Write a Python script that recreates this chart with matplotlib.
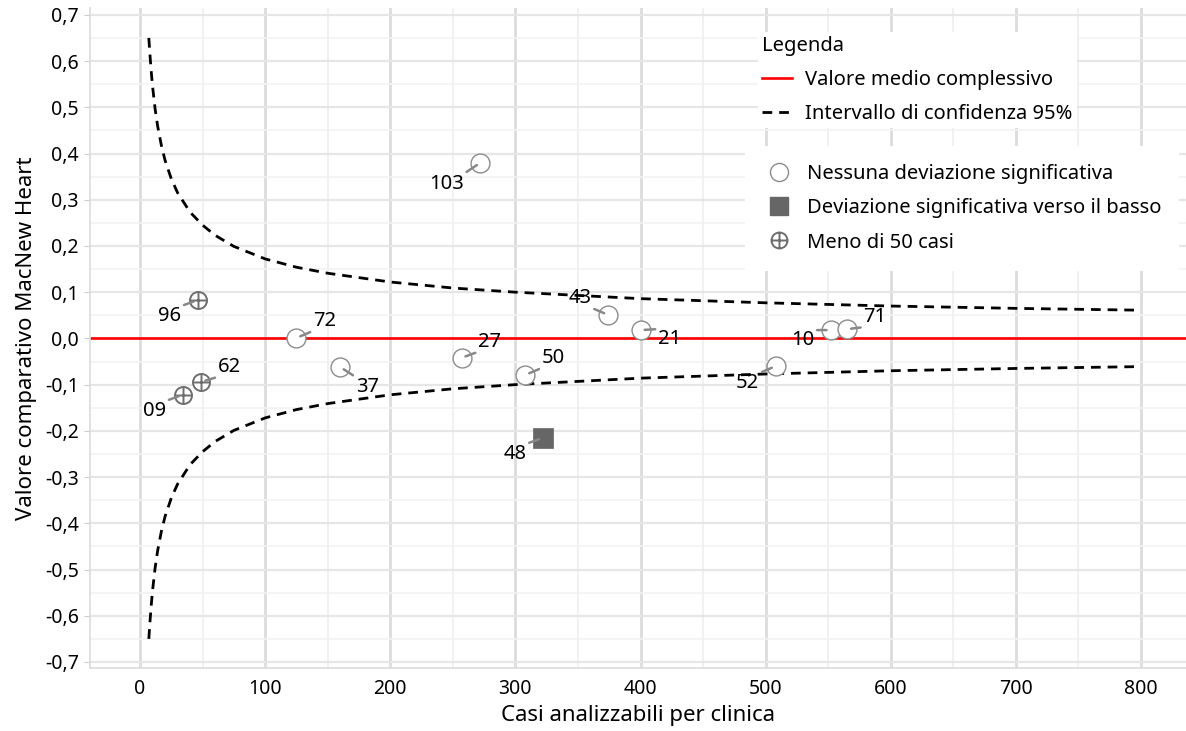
import numpy as np
import matplotlib
matplotlib.use("Agg")
import matplotlib.pyplot as plt
from matplotlib.path import Path
from matplotlib.lines import Line2D
from matplotlib.ticker import MultipleLocator, FuncFormatter

plt.rcParams["font.family"] = ["Noto Sans", "DejaVu Sans"]

# -----------------------------
# Data
# -----------------------------
clinic = ["103", "96", "72", "37", "62", "09", "27", "50", "48", "43", "21", "52", "10", "71"]
cases = [272, 46, 125, 160, 49, 34, 257, 308, 322, 374, 400, 508, 552, 565]
value = [0.380, 0.083, 0.001, -0.062, -0.094, -0.122, -0.042, -0.079, -0.215, 0.051, 0.018, -0.060, 0.018, 0.020]
group = ["ok", "few", "ok", "ok", "few", "few", "ok", "ok", "low", "ok", "ok", "ok", "ok", "ok"]
# label offsets (pixels, x right / y up)
lab_dx = [-34, -28, 28, 27, 28, -28, 28, 28, -28, -28, 29, -28, -28, 28]
lab_dy = [-21, -16, 17, -20, 15, -16, 16, 17, -16, 17, -9, -17, -10, 12]

# confidence band
ci_n = [7, 8, 9, 10, 12, 14, 17, 20, 25, 30, 40, 50, 60, 75, 100, 125, 150, 200,
        250, 300, 400, 500, 600, 700, 800]
ci_upper = [0.650, 0.610, 0.575, 0.545, 0.497, 0.460, 0.418, 0.385, 0.345, 0.315,
            0.273, 0.245, 0.223, 0.199, 0.172, 0.154, 0.141, 0.122, 0.109, 0.100,
            0.086, 0.077, 0.070, 0.065, 0.061]
ci_lower = [-0.650, -0.610, -0.575, -0.545, -0.497, -0.460, -0.418, -0.385, -0.345, -0.315,
            -0.273, -0.245, -0.223, -0.199, -0.172, -0.154, -0.141, -0.122, -0.109, -0.100,
            -0.086, -0.077, -0.070, -0.065, -0.061]
overall_mean = 0.0

# -----------------------------
# Figure
# -----------------------------
fig = plt.figure(figsize=(11.86, 7.31), dpi=100)
ax = fig.add_axes([0.0759, 0.0862, 0.9241, 0.903])

ax.set_xlim(-40, 836)
ax.set_ylim(-0.713, 0.715)

ax.xaxis.set_major_locator(MultipleLocator(100))
ax.xaxis.set_minor_locator(MultipleLocator(50))
ax.yaxis.set_major_locator(MultipleLocator(0.1))
ax.yaxis.set_minor_locator(MultipleLocator(0.05))
ax.yaxis.set_major_formatter(FuncFormatter(lambda v, p: f"{v:.1f}".replace(".", ",").replace("-0,0", "0,0")))

ax.grid(which="major", axis="x", color="#dcdcdc", lw=2.0)
ax.grid(which="minor", axis="x", color="#efefef", lw=1.2)
ax.grid(which="major", axis="y", color="#e6e6e6", lw=1.6)
ax.grid(which="minor", axis="y", color="#f2f2f2", lw=1.2)
ax.set_axisbelow(True)

for s in ["top", "right"]:
    ax.spines[s].set_visible(False)
for s in ["left", "bottom"]:
    ax.spines[s].set_color("#dcdcdc")
    ax.spines[s].set_linewidth(1.2)

ax.tick_params(axis="y", which="major", length=4, color="#cccccc", labelsize=14, pad=4)
ax.tick_params(axis="x", which="major", length=0, labelsize=14, pad=8)
ax.tick_params(which="minor", length=0)

ax.set_xlabel("Casi analizzabili per clinica", fontsize=16, labelpad=4)
ax.set_ylabel("Valore comparativo MacNew Heart", fontsize=16, labelpad=6)

# reference lines
dash = (0, (3.5, 2.5))
ax.axhline(overall_mean, color="#ff0000", lw=1.9, zorder=2)
ax.plot(ci_n, ci_upper, color="black", lw=2.0, ls=dash, zorder=2)
ax.plot(ci_n, ci_lower, color="black", lw=2.0, ls=dash, zorder=2)

# circle-plus marker
circ = Path.unit_circle()
cross = Path([[-1, 0], [1, 0], [0, -1], [0, 1]],
             [Path.MOVETO, Path.LINETO, Path.MOVETO, Path.LINETO])
oplus = Path.make_compound_path(circ, cross)

cases = np.array(cases)
value = np.array(value)
group = np.array(group)

m = group == "ok"
ax.scatter(cases[m], value[m], s=185, marker="o", facecolor="white",
           edgecolor="#8c8c8c", lw=1.0, zorder=3)
m = group == "low"
ax.scatter(cases[m], value[m], s=190, marker="s", facecolor="#666666",
           edgecolor="#666666", lw=0.5, zorder=3)
m = group == "few"
ax.scatter(cases[m], value[m], s=150, marker=oplus, facecolor="white",
           edgecolor="#6e6e6e", lw=1.4, zorder=3)

# labels with leader lines
for name, x, y, dx, dy in zip(clinic, cases, value, lab_dx, lab_dy):
    rx = 0.0 if dx > 0 else 1.0
    ry = 0.0 if dy > 0 else 1.0
    ax.annotate(name, xy=(x, y), xytext=(dx, dy), textcoords="offset pixels",
                ha="center", va="center", fontsize=14.5, zorder=4,
                arrowprops=dict(arrowstyle="-", color="#888888", lw=1.8,
                                shrinkA=0, shrinkB=3, relpos=(rx, ry)))

# legends
h1 = [Line2D([], [], color="#ff0000", lw=1.9),
      Line2D([], [], color="black", lw=2.0, ls=dash)]
leg1 = fig.legend(h1, ["Valore medio complessivo", "Intervallo di confidenza 95%"],
                  title="Legenda", loc="upper left", bbox_to_anchor=(0.639, 0.956),
                  fontsize=14.5, title_fontsize=14.5, alignment="left",
                  frameon=True, fancybox=False, framealpha=1, edgecolor="white",
                  handlelength=1.5, handletextpad=0.65, labelspacing=0.7,
                  borderpad=0.2, borderaxespad=0)
leg1.get_frame().set_linewidth(0)

h2 = [Line2D([], [], ls="", marker="o", ms=13, mfc="white", mec="#8c8c8c", mew=1.0),
      Line2D([], [], ls="", marker="s", ms=13, mfc="#666666", mec="#666666"),
      Line2D([], [], ls="", marker=oplus, ms=11.5, mfc="white", mec="#6e6e6e", mew=1.4)]
leg2 = fig.legend(h2, ["Nessuna deviazione significativa",
                       "Deviazione significativa verso il basso",
                       "Meno di 50 casi"],
                  loc="upper left", bbox_to_anchor=(0.6285, 0.800),
                  fontsize=14.5, frameon=True, fancybox=False, framealpha=1,
                  edgecolor="white", handlelength=1.5, handletextpad=0.65,
                  labelspacing=0.7, borderpad=0.9, borderaxespad=0)
leg2.get_frame().set_linewidth(0)

fig.savefig("out.png", dpi=100)
